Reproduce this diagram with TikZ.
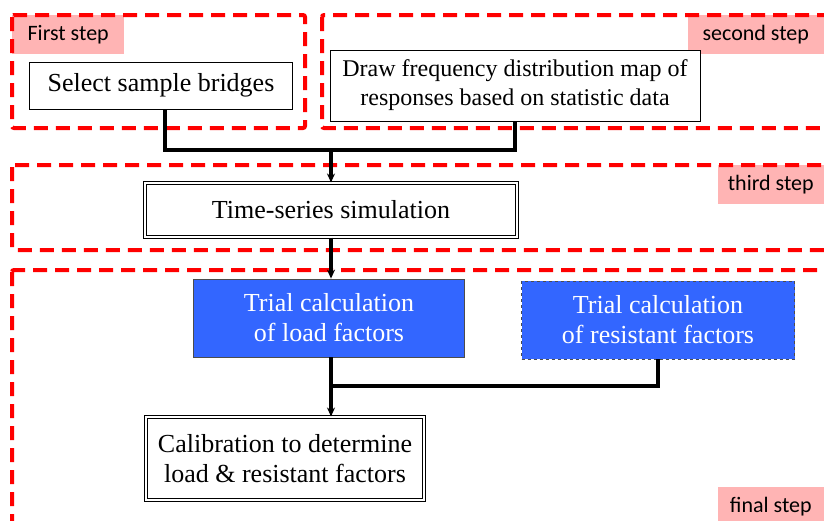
\documentclass[tikz,border=0pt]{standalone}
\usepackage{fontspec}
\setmainfont{Liberation Serif}
\newfontfamily\stepfont{Carlito}
\usetikzlibrary{arrows,arrows.meta}
\definecolor{stepred}{HTML}{FF0000}
\definecolor{steppink}{HTML}{FFB4B4}
\definecolor{calcblue}{HTML}{3366FF}

\begin{document}
\begin{tikzpicture}[x=1pt,y=-1pt]
\tikzstyle{every node}=[inner sep=0pt, align=center, font=\fontsize{26}{30}\selectfont]
\tikzstyle{stage}=[draw=stepred, line width=4pt, dash pattern=on 14pt off 8pt, rounded corners=2pt]
\tikzstyle{steplabel}=[fill=steppink, minimum height=39pt, font=\stepfont\fontsize{22}{24}\selectfont]
\tikzstyle{plainbox}=[draw, line width=1pt, fill=white]
\tikzstyle{dblbox}=[draw, double=white, double distance=1.6pt, line width=1pt, fill=white]
\tikzstyle{calcbox}=[draw=black!70, line width=0.8pt, fill=calcblue, text=white]
\tikzstyle{conn}=[line width=4pt]
\tikzstyle{arr}=[line width=4pt, -{Stealth[length=9pt,width=8pt]}]
\useasboundingbox (0,0) rectangle (824,520);
\clip (0,0) rectangle (824,520);
% step labels
\node (l1) [steplabel, anchor=north west, minimum width=112pt] at (12,15) {First step};
\node (l2) [steplabel, anchor=north east, minimum width=136pt] at (824,15) {second step};
\node (l3) [steplabel, anchor=north east, minimum width=106pt] at (824,165) {third step};
\node (l4) [steplabel, anchor=north east, minimum width=106pt] at (824,487) {final step};
% stages
\draw[stage] (12,15) rectangle (305,128);
\draw[stage] (322,15) rectangle (840,128);
\draw[stage] (12,165) rectangle (840,250);
\draw[stage] (12,270) rectangle (840,540);
% boxes
\node (sel) [plainbox, minimum width=263pt, minimum height=47pt] at (161,85.5) {Select sample bridges};
\node (dfm) [plainbox, minimum width=370pt, minimum height=71pt, font=\fontsize{24}{29}\selectfont] at (515,85.5) {Draw frequency distribution map of\\responses based on statistic data};
\node (ts) [dblbox, minimum width=372pt, minimum height=54pt] at (331,210) {Time-series simulation};
\node (load) [calcbox, minimum width=271pt, minimum height=78pt] at (329,318) {Trial calculation\\of load factors};
\node (res) [calcbox, dashed, minimum width=273pt, minimum height=78pt] at (658,320) {Trial calculation\\of resistant factors};
\node (cal) [dblbox, minimum width=278pt, minimum height=83pt] at (285,458.5) {Calibration to determine\\load \& resistant factors};
% connectors
\coordinate (j1) at (331,150);
\coordinate (j2) at (331,386);
\draw[conn] (sel.south) ++(4,0) |- (j1) -| (dfm.south);
\draw[arr] (j1) -- (ts.north);
\draw[arr] (ts.south) -- (load.north -| ts.south);
\draw[conn] (load.south -| j2) -- (j2) -| (res.south);
\draw[arr] (j2) -- (j2 |- cal.north);
\end{tikzpicture}
\end{document}
